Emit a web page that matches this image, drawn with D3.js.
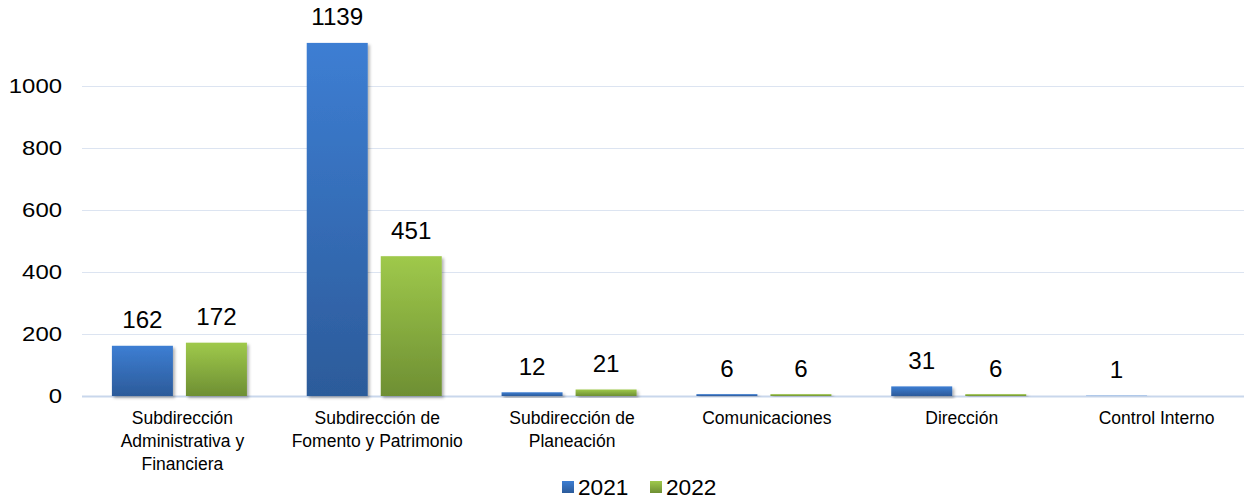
<!DOCTYPE html>
<html>
<head>
<meta charset="utf-8">
<script src="https://cdn.jsdelivr.net/npm/d3@7"></script>
<style>
  html, body { margin: 0; padding: 0; background: #fff; }
  svg { display: block; font-family: "Liberation Sans", Arial, sans-serif; }
</style>
</head>
<body>
<svg id="chart" width="1244" height="500"></svg>
<script>
// Areas (categories), one label line per array entry
const categories = [
  ["Subdirección", "Administrativa y", "Financiera"],
  ["Subdirección de", "Fomento y Patrimonio"],
  ["Subdirección de", "Planeación"],
  ["Comunicaciones"],
  ["Dirección"],
  ["Control Interno"]
];
const seriesNames = ["2021", "2022"];
const values2021 = [162, 1139, 12, 6, 31, 1];
const values2022 = [172, 451, 21, 6, 6, null];
const yTicks = [0, 200, 400, 600, 800, 1000];

const svg = d3.select("#chart");
const W = 1244;
const plotLeft = 82, plotRight = 1251;

const defs = svg.append("defs");
const grads = [
  { id: "g2021", top: "#3D7ED3", bottom: "#2C5B9A" },
  { id: "g2022", top: "#9FC94B", bottom: "#6E8F33" }
];
grads.forEach(g => {
  const lg = defs.append("linearGradient").attr("id", g.id)
    .attr("x1", 0).attr("y1", 0).attr("x2", 0).attr("y2", 1);
  lg.append("stop").attr("offset", "0%").attr("stop-color", g.top);
  lg.append("stop").attr("offset", "100%").attr("stop-color", g.bottom);
});
const filt = defs.append("filter").attr("id", "shadow")
  .attr("x", "-20%").attr("y", "-20%").attr("width", "150%").attr("height", "150%");
filt.append("feDropShadow").attr("dx", 2).attr("dy", 2).attr("stdDeviation", 1.6)
  .attr("flood-color", "#000").attr("flood-opacity", 0.3);

const x0 = d3.scaleBand().domain(d3.range(categories.length))
  .range([plotLeft, plotRight]).paddingInner(0).paddingOuter(0);
const x1 = d3.scaleBand().domain(seriesNames).range([0, x0.bandwidth()])
  .paddingInner(0.176).paddingOuter(0.404);
const y = d3.scaleLinear().domain([0, 1000]).range([396, 86]);

// text helper: horizontally widened glyphs around the anchor point
function stretchedText(sel, sx) {
  return sel.attr("transform", function () {
    const tx = +this.getAttribute("data-x"), ty = +this.getAttribute("data-y");
    return `translate(${tx},${ty}) scale(${sx},1)`;
  });
}

// gridlines
svg.append("g").selectAll("line").data(yTicks).join("line")
  .attr("x1", plotLeft).attr("x2", W)
  .attr("y1", d => Math.round(y(d)) + 0.5).attr("y2", d => Math.round(y(d)) + 0.5)
  .attr("stroke", d => d === 0 ? "#C9D7EC" : "#DCE4F1")
  .attr("stroke-width", d => d === 0 ? 2 : 1.2);

// y tick labels
svg.append("g").selectAll("text").data(yTicks).join("text")
  .attr("data-x", 62).attr("data-y", d => y(d) + 7)
  .attr("text-anchor", "end")
  .attr("font-size", 21).attr("fill", "#000")
  .text(d => d)
  .call(stretchedText, 1.14);

const series = [
  { name: "2021", values: values2021, fill: "url(#g2021)" },
  { name: "2022", values: values2022, fill: "url(#g2022)" }
];

series.forEach(s => {
  const g = svg.append("g");
  const data = s.values.map((v, i) => ({ i, v })).filter(d => d.v !== null);
  g.selectAll("rect").data(data).join("rect")
    .attr("x", d => x0(d.i) + x1(s.name))
    .attr("width", x1.bandwidth())
    .attr("y", d => y(d.v))
    .attr("height", d => Math.max(0, y(0) - y(d.v)))
    .attr("fill", s.fill)
    .attr("filter", "url(#shadow)");
  g.selectAll("text").data(data).join("text")
    .attr("data-x", d => x0(d.i) + x1(s.name) + x1.bandwidth() / 2)
    .attr("data-y", d => y(d.v) - 17.5)
    .attr("text-anchor", "middle")
    .attr("font-size", 23).attr("fill", "#000")
    .text(d => d.v)
    .call(stretchedText, 1.05);
});

// category labels
const cat = svg.append("g").selectAll("text").data(categories).join("text")
  .attr("x", (d, i) => x0(i) + x0.bandwidth() / 2 + 3)
  .attr("y", 424)
  .attr("text-anchor", "middle")
  .attr("font-size", 17.5).attr("fill", "#000");
cat.selectAll("tspan").data(d => d).join("tspan")
  .attr("x", function () { return this.parentNode.getAttribute("x"); })
  .attr("dy", (d, j) => j === 0 ? 0 : 23)
  .text(d => d);

// legend
const legend = svg.append("g");
const legendX = [562, 650];
series.forEach((s, k) => {
  legend.append("rect")
    .attr("x", legendX[k]).attr("y", 481).attr("width", 12).attr("height", 12)
    .attr("fill", s.fill);
  legend.append("text")
    .attr("data-x", legendX[k] + 16).attr("data-y", 495)
    .attr("font-size", 22).attr("fill", "#000")
    .text(s.name)
    .call(stretchedText, 1.03);
});
</script>
</body>
</html>
